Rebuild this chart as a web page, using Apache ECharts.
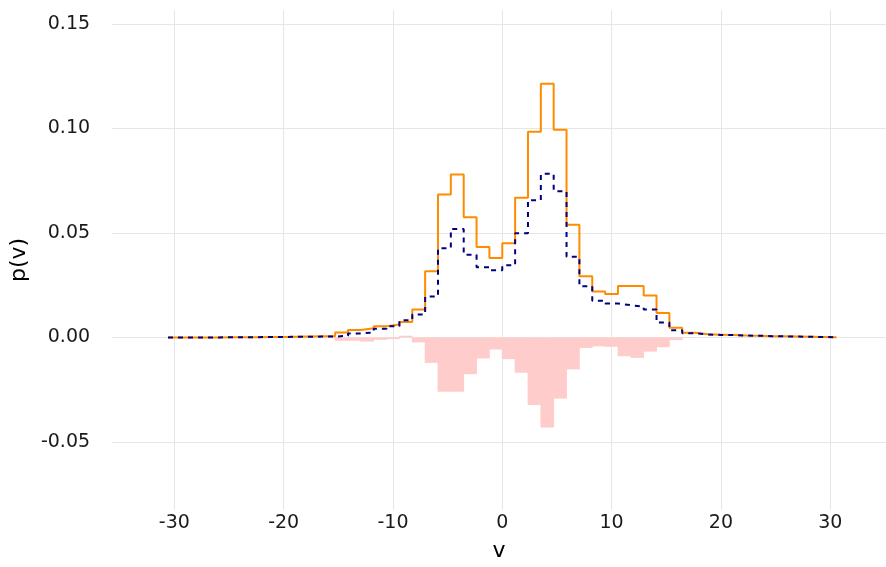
<!DOCTYPE html>
<html>
<head>
<meta charset="utf-8">
<script src="https://cdn.jsdelivr.net/npm/echarts@6/dist/echarts.min.js"></script>
<style>
  html, body { margin: 0; padding: 0; background: #fff; }
  #chart { width: 886px; height: 567px; }
</style>
</head>
<body>
<div id="chart"></div>
<script>
// histogram bins: 52 bins of equal width
var binStart = -30.58;
var binWidth = 1.176;

// orange (solid) histogram
var pSolid = [
    0, 0, 0, 0, 0.0001, 0.0001, 0.0001, 0.0002, 0.0002, 0.0003,
    0.0004, 0.0005, 0.0006, 0.0024, 0.0035, 0.0044, 0.0054, 0.0062, 0.0074, 0.0134,
    0.0317, 0.0684, 0.0780, 0.0575, 0.0433, 0.0380, 0.0451, 0.0668, 0.0984, 0.1214,
    0.0994, 0.0539, 0.0293, 0.0220, 0.0208, 0.0246, 0.0246, 0.0200, 0.0117, 0.0046,
    0.0022, 0.0015, 0.0013, 0.0011, 0.0009, 0.0008, 0.0006, 0.0005, 0.0004, 0.0003,
    0.0002, 0.0001
];

// navy (dashed) histogram
var pDashed = [
    0, 0, 0, 0, 0.0001, 0.0001, 0.0001, 0.0002, 0.0002, 0.0003,
    0.0003, 0.0004, 0.0004, 0.0008, 0.0019, 0.0024, 0.0042, 0.0054, 0.0082, 0.0110,
    0.0196, 0.0427, 0.0519, 0.0396, 0.0336, 0.0322, 0.0345, 0.0499, 0.0657, 0.0783,
    0.0700, 0.0386, 0.0245, 0.0176, 0.0162, 0.0154, 0.0147, 0.0133, 0.0071, 0.0034,
    0.0020, 0.0014, 0.0012, 0.0011, 0.0009, 0.0008, 0.0006, 0.0005, 0.0004, 0.0003,
    0.0002, 0.0001
];

// pink bars (difference)
var pDiff = [
    0, 0, 0, 0, 0, 0, 0, 0, 0, 0,
    -0.0001, -0.0001, -0.0002, -0.0016, -0.0016, -0.0020, -0.0012, -0.0008, 0.0008, -0.0024,
    -0.0122, -0.0260, -0.0260, -0.0176, -0.0101, -0.0058, -0.0104, -0.0169, -0.0323, -0.0431,
    -0.0293, -0.0153, -0.0051, -0.0043, -0.0045, -0.0090, -0.0098, -0.0068, -0.0047, -0.0013,
    -0.0002, -0.0001, 0, 0, 0, 0, 0, 0, 0, 0,
    0, 0
];

var xTicks = [-30, -20, -10, 0, 10, 20, 30];
var yTicks = [-0.05, 0, 0.05, 0.10, 0.15];

function stepData(vals) {
    var out = [];
    for (var i = 0; i < vals.length; i++) {
        out.push([binStart + i * binWidth, vals[i]]);
    }
    out.push([binStart + vals.length * binWidth, vals[vals.length - 1]]);
    return out;
}

var barData = pDiff.map(function (v, i) {
    return [binStart + i * binWidth, binStart + (i + 1) * binWidth, v];
});

var font = 'DejaVu Sans';
var chart = echarts.init(document.getElementById('chart'));

var option = {
    backgroundColor: '#fff',
    animation: false,
    grid: {left: 112, right: 0, top: 10, bottom: 53},
    xAxis: {
        type: 'value',
        min: -35.7,
        max: 35.1,
        name: 'v',
        nameLocation: 'middle',
        nameGap: 30,
        nameTextStyle: {fontFamily: font, fontSize: 22, color: '#000'},
        axisLine: {show: false},
        axisTick: {show: false, customValues: xTicks},
        axisLabel: {
            customValues: xTicks,
            fontFamily: font, fontSize: 19, color: '#1a1a1a', margin: 4
        },
        splitLine: {show: true, lineStyle: {color: '#e6e6e6', width: 1}}
    },
    yAxis: {
        type: 'value',
        min: -0.0826,
        max: 0.1567,
        name: 'p(v)',
        nameLocation: 'middle',
        nameGap: 82,
        nameTextStyle: {fontFamily: font, fontSize: 22, color: '#000'},
        axisLine: {show: false},
        axisTick: {show: false, customValues: yTicks},
        axisLabel: {
            customValues: yTicks,
            fontFamily: font, fontSize: 19, color: '#1a1a1a', margin: 22,
            formatter: function (v) { return v.toFixed(2); }
        },
        splitLine: {show: true, lineStyle: {color: '#e6e6e6', width: 1}}
    },
    series: [
        {
            type: 'custom',
            data: barData,
            encode: {x: [0, 1], y: 2},
            renderItem: function (params, api) {
                var a = api.coord([api.value(0), 0]);
                var b = api.coord([api.value(1), api.value(2)]);
                return {
                    type: 'rect',
                    shape: {
                        x: a[0] - 0.4,
                        y: Math.min(a[1], b[1]),
                        width: b[0] - a[0] + 0.8,
                        height: Math.abs(b[1] - a[1])
                    },
                    style: {fill: '#ffcccc'}
                };
            },
            z: 1
        },
        {
            type: 'line',
            data: stepData(pSolid),
            step: 'end',
            showSymbol: false,
            lineStyle: {color: '#ff8c00', width: 2},
            z: 2
        },
        {
            type: 'line',
            data: stepData(pDashed),
            step: 'end',
            showSymbol: false,
            lineStyle: {color: '#000080', width: 2, type: [5, 5]},
            z: 3
        }
    ]
};

chart.setOption(option);
</script>
</body>
</html>
